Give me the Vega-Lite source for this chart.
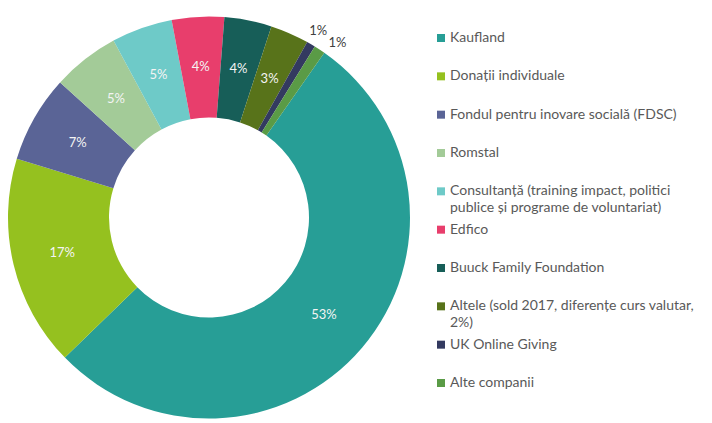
{
  "$schema": "https://vega.github.io/schema/vega-lite/v6.json",
  "padding": {"top": 12, "left": 0, "right": 0, "bottom": 0},
  "background": "white",
  "spacing": 23,
  "bounds": "flush",
  "config": {"view": {"stroke": null}, "font": "Lato"},
  "datasets": {
    "d": [
      {"rank": 1, "name": "Kaufland", "legend": "Kaufland", "value": 53, "label": "53%"},
      {"rank": 2, "name": "Donații individuale", "legend": "Donații individuale", "value": 17, "label": "17%"},
      {"rank": 3, "name": "Fondul pentru inovare socială (FDSC)", "legend": "Fondul pentru inovare socială (FDSC)", "value": 7, "label": "7%"},
      {"rank": 4, "name": "Romstal", "legend": "Romstal", "value": 5.4, "label": "5%"},
      {"rank": 5, "name": "Consultanță (training impact, politici publice și programe de voluntariat)", "legend": "Consultanță (training impact, politici\npublice și programe de voluntariat)", "value": 4.9, "label": "5%"},
      {"rank": 6, "name": "Edfico", "legend": "Edfico", "value": 4.2, "label": "4%"},
      {"rank": 7, "name": "Buuck Family Foundation", "legend": "Buuck Family Foundation", "value": 3.8, "label": "4%"},
      {"rank": 8, "name": "Altele (sold 2017, diferențe curs valutar, 2%)", "legend": "Altele (sold 2017, diferențe curs valutar,\n2%)", "value": 3.1, "label": "3%"},
      {"rank": 9, "name": "UK Online Giving", "legend": "UK Online Giving", "value": 0.7, "label": "1%"},
      {"rank": 10, "name": "Alte companii", "legend": "Alte companii", "value": 0.9, "label": "1%"}
    ]
  },
  "hconcat": [
    {
      "width": 418,
      "height": 411,
      "data": {"name": "d"},
      "encoding": {
        "theta": {"field": "value", "type": "quantitative", "stack": true, "scale": {"domain": [0, 100], "range": [0.6109, 6.8941]}},
        "order": {"field": "rank", "type": "quantitative"},
        "detail": {"field": "name", "type": "nominal"}
      },
      "layer": [
        {
          "mark": {"type": "arc", "innerRadius": 100, "outerRadius": 201},
          "encoding": {
            "color": {
              "field": "name", "type": "nominal", "legend": null,
              "scale": {
                "domain": ["Kaufland", "Donații individuale", "Fondul pentru inovare socială (FDSC)", "Romstal", "Consultanță (training impact, politici publice și programe de voluntariat)", "Edfico", "Buuck Family Foundation", "Altele (sold 2017, diferențe curs valutar, 2%)", "UK Online Giving", "Alte companii"],
                "range": ["#279e96", "#95c11f", "#5a6496", "#a3cb98", "#6ecac8", "#e83e6c", "#175e58", "#58731a", "#333a60", "#5a9b46"]
              }
            }
          }
        },
        {
          "mark": {"type": "text", "radius": 151, "fontSize": 13, "fill": "#f4f4f4"},
          "encoding": {"text": {"condition": {"test": "datum.value >= 2", "field": "label", "type": "nominal"}, "value": ""}}
        },
        {
          "mark": {"type": "text", "dx": -1, "dy": 0, "fontSize": 13, "fill": "#404040"},
          "encoding": {
            "radius": {"field": "value", "type": "quantitative", "scale": {"type": "linear", "domain": [0.9, 1], "range": [217, 0], "clamp": true, "zero": false, "nice": false}},
            "text": {"condition": {"test": "datum.name === 'UK Online Giving'", "field": "label", "type": "nominal"}, "value": ""}
          }
        },
        {
          "mark": {"type": "text", "dx": 9, "dy": 7, "fontSize": 13, "fill": "#404040"},
          "encoding": {
            "radius": {"field": "value", "type": "quantitative", "scale": {"type": "linear", "domain": [0.9, 1], "range": [217, 0], "clamp": true, "zero": false, "nice": false}},
            "text": {"condition": {"test": "datum.name === 'Alte companii'", "field": "label", "type": "nominal"}, "value": ""}
          }
        }
      ]
    },
    {
      "width": 271,
      "height": 411,
      "data": {"name": "d"},
      "encoding": {
        "y": {
          "field": "name", "type": "nominal", "axis": null,
          "scale": {"type": "point", "padding": 0.861, "align": 0.394, "domain": ["Kaufland", "Donații individuale", "Fondul pentru inovare socială (FDSC)", "Romstal", "Consultanță (training impact, politici publice și programe de voluntariat)", "Edfico", "Buuck Family Foundation", "Altele (sold 2017, diferențe curs valutar, 2%)", "UK Online Giving", "Alte companii"]}
        },
        "x": {"datum": 0, "type": "quantitative", "axis": null, "scale": {"domain": [0, 1]}}
      },
      "layer": [
        {
          "mark": {"type": "square", "size": 64, "opacity": 1},
          "encoding": {
            "color": {
              "field": "name", "type": "nominal", "legend": null,
              "scale": {
                "domain": ["Kaufland", "Donații individuale", "Fondul pentru inovare socială (FDSC)", "Romstal", "Consultanță (training impact, politici publice și programe de voluntariat)", "Edfico", "Buuck Family Foundation", "Altele (sold 2017, diferențe curs valutar, 2%)", "UK Online Giving", "Alte companii"],
                "range": ["#279e96", "#95c11f", "#5a6496", "#a3cb98", "#6ecac8", "#e83e6c", "#175e58", "#58731a", "#333a60", "#5a9b46"]
              }
            }
          }
        },
        {
          "mark": {"type": "text", "align": "left", "baseline": "middle", "dx": 9, "fontSize": 14, "fill": "#595959", "lineBreak": "\n", "lineHeight": 17},
          "encoding": {"text": {"field": "legend", "type": "nominal"}}
        }
      ]
    }
  ]
}
